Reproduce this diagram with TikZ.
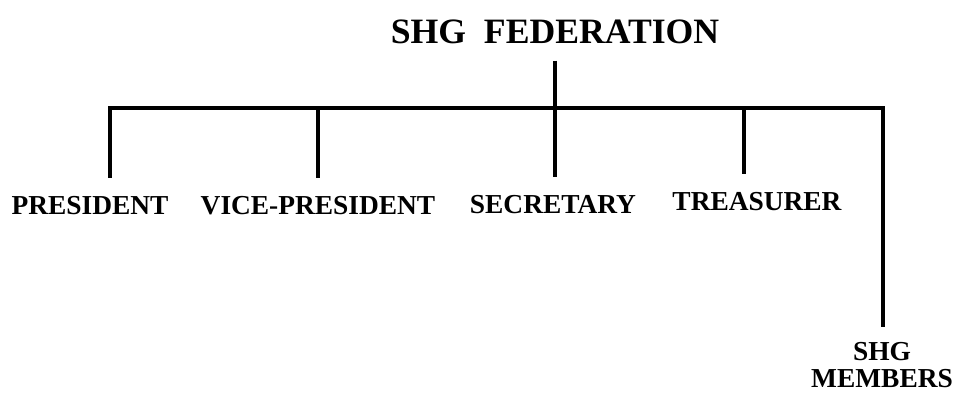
\documentclass[tikz,border=0pt]{standalone}
\usepackage{fontspec}
\setmainfont{Liberation Serif}
\usepackage{tikz}

\begin{document}
\begin{tikzpicture}[
  post/.style={inner xsep=0pt,inner ysep=0.36cm,anchor=base,
    font=\bfseries\fontsize{15.6pt}{15.4pt}\selectfont,align=center},
  head/.style={inner xsep=0pt,inner ysep=0.34cm,anchor=base,
    font=\bfseries\fontsize{20.3pt}{24pt}\selectfont},
  link/.style={line width=2.3pt}]

  \useasboundingbox (0,0) rectangle (19.08,7.84);

  \node[head] (fed) at (11.1,6.98) {SHG\ \ FEDERATION};

  \coordinate (hub) at (11.1,5.68);
  \coordinate (b1) at (2.2,5.68);
  \coordinate (b2) at (6.36,5.68);
  \coordinate (b3) at (11.1,5.68);
  \coordinate (b4) at (14.88,5.68);
  \coordinate (b5) at (17.66,5.68);

  \node[post] (pres) at (1.8,3.56) {PRESIDENT};
  \node[post] (vice) at (6.36,3.56) {VICE-PRESIDENT};
  \node[post] (secy) at (11.06,3.58) {SECRETARY};
  \node[post] (tres) at (15.14,3.64) {TREASURER};
  \node[post,anchor=north,inner ysep=0pt] (memb) at (17.64,1.0) {SHG\\MEMBERS};

  \draw[link] (fed) -- (hub);
  \draw[link] (b1 |- pres.north) -- (b1) -- (b5) -- ([yshift=0.3cm]b5 |- memb.north);
  \draw[link] (b2) -- (b2 |- vice.north);
  \draw[link] (b3) -- (b3 |- secy.north);
  \draw[link] (b4) -- (b4 |- tres.north);
\end{tikzpicture}
\end{document}
